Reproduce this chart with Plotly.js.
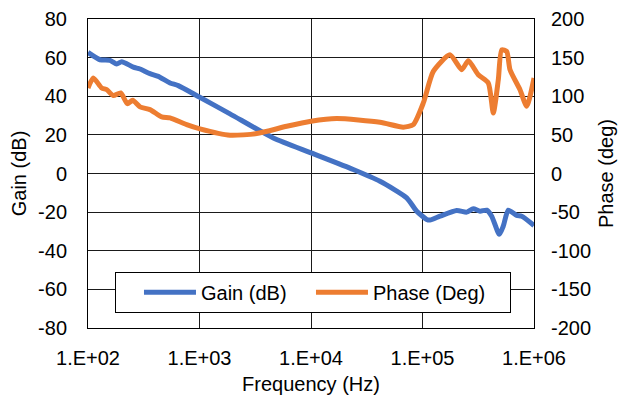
<!DOCTYPE html>
<html>
<head>
<meta charset="utf-8">
<script src="https://cdn.plot.ly/plotly-3.0.1.min.js"></script>
<style>html,body{margin:0;padding:0;background:#fff;}#chart{width:636px;height:399px;}</style>
</head>
<body>
<div id="chart"></div>
<script>
// Gain series (frequency in Hz, gain in dB)
const gainFreq = [100,128,157.5,181,200.6,254.8,292.7,359.8,427,543.7,645.5,996,1877,4592,10000,23930,41570,72110,88720,109100,116800,143600,202600,249100,285500,328000,376500,417400,488500,530500,588200,699500,775700,1000000];
const gainDb   = [62.7,58.9,58.6,56.7,57.9,55.1,54.1,51.7,50.3,46.9,45.5,39.6,30.9,18.4,10.7,2.1,-4,-12.6,-19.5,-23.8,-24.1,-22.1,-19.1,-20,-18.3,-19.5,-19,-22.1,-31.5,-27.2,-19,-21.7,-22.1,-26.9];
// Phase series (frequency in Hz, phase in degrees)
const phaseFreq = [100,111.6,132.7,147.2,168.6,196.5,225.2,251.7,292.7,359.8,458.1,543.7,767.7,1010,1877,3258,6055,10000,16980,41570,67280,82700,101700,125000,176400,224700,257500,316500,389100,431500,478500,513300,569100,609200,748900,860000,1000000];
const phaseDeg  = [110.7,123.6,110.7,108.5,100.8,104.3,90.4,94.7,86.2,82.7,73.2,72,63.3,57.8,49.5,51.7,61.1,67.6,71.1,66.3,60,63.3,91.3,132.2,153.7,134.4,146,127.9,117.2,78.4,121.4,160.2,158,134.4,108.5,87,123.6];
// Axis ticks
const xTickVals = [100,1000,10000,100000,1000000];
const xTickText = ['1.E+02','1.E+03','1.E+04','1.E+05','1.E+06'];
const gainTickVals = [-80,-60,-40,-20,0,20,40,60,80];
const gainTickText = ['-80','-60','-40','-20','0','20','40','60','80'];
const phaseTickVals = [-200,-150,-100,-50,0,50,100,150,200];
const phaseTickText = ['-200','-150','-100','-50','0','50','100','150','200'];

const font = {family: 'Liberation Sans, Arial, sans-serif', size: 20, color: '#000'};
const gridColor = '#1a1a1a';

const traces = [
  {x: gainFreq, y: gainDb, name: 'Gain (dB)', type: 'scatter', mode: 'lines',
   line: {color: '#4472C4', width: 5, shape: 'spline', smoothing: 0.6}, yaxis: 'y',
   legendwidth: 82},
  {x: phaseFreq, y: phaseDeg, name: 'Phase (Deg)', type: 'scatter', mode: 'lines',
   line: {color: '#ED7D31', width: 5, shape: 'spline', smoothing: 0.6}, yaxis: 'y2',
   legendwidth: 132}
];

const layout = {
  width: 636, height: 399,
  margin: {l: 88, r: 102, t: 19, b: 71},
  paper_bgcolor: '#fff', plot_bgcolor: '#fff',
  font: font,
  showlegend: true,
  legend: {orientation: 'h', x: 0.0605, xanchor: 'left', y: 0.182, yanchor: 'top',
    bgcolor: '#fff', bordercolor: '#000', borderwidth: 1, font: font,
    itemwidth: 52, indentation: 23, tracegroupgap: 0},
  xaxis: {type: 'log', range: [2, 6], tickvals: xTickVals, ticktext: xTickText,
    showgrid: true, gridcolor: gridColor, gridwidth: 1,
    showline: true, linecolor: '#000', linewidth: 1, mirror: true,
    ticks: '', ticklabelstandoff: 12, zeroline: false,
    title: {text: 'Frequency (Hz)', font: font, standoff: 8}},
  yaxis: {range: [-80, 80], tickvals: gainTickVals, ticktext: gainTickText,
    showgrid: true, gridcolor: gridColor, gridwidth: 1, zeroline: false,
    showline: true, linecolor: '#000', linewidth: 1, mirror: true,
    ticks: '', ticklabelstandoff: 16,
    title: {text: 'Gain (dB)', font: font, standoff: 6}},
  yaxis2: {range: [-200, 200], tickvals: phaseTickVals, ticktext: phaseTickText,
    overlaying: 'y', side: 'right', showgrid: false, zeroline: false,
    showline: false, ticks: '', ticklabelstandoff: 16,
    title: {text: 'Phase (deg)', font: font, standoff: 8}}
};

Plotly.newPlot('chart', traces, layout, {displayModeBar: false, staticPlot: true});
</script>
</body>
</html>
